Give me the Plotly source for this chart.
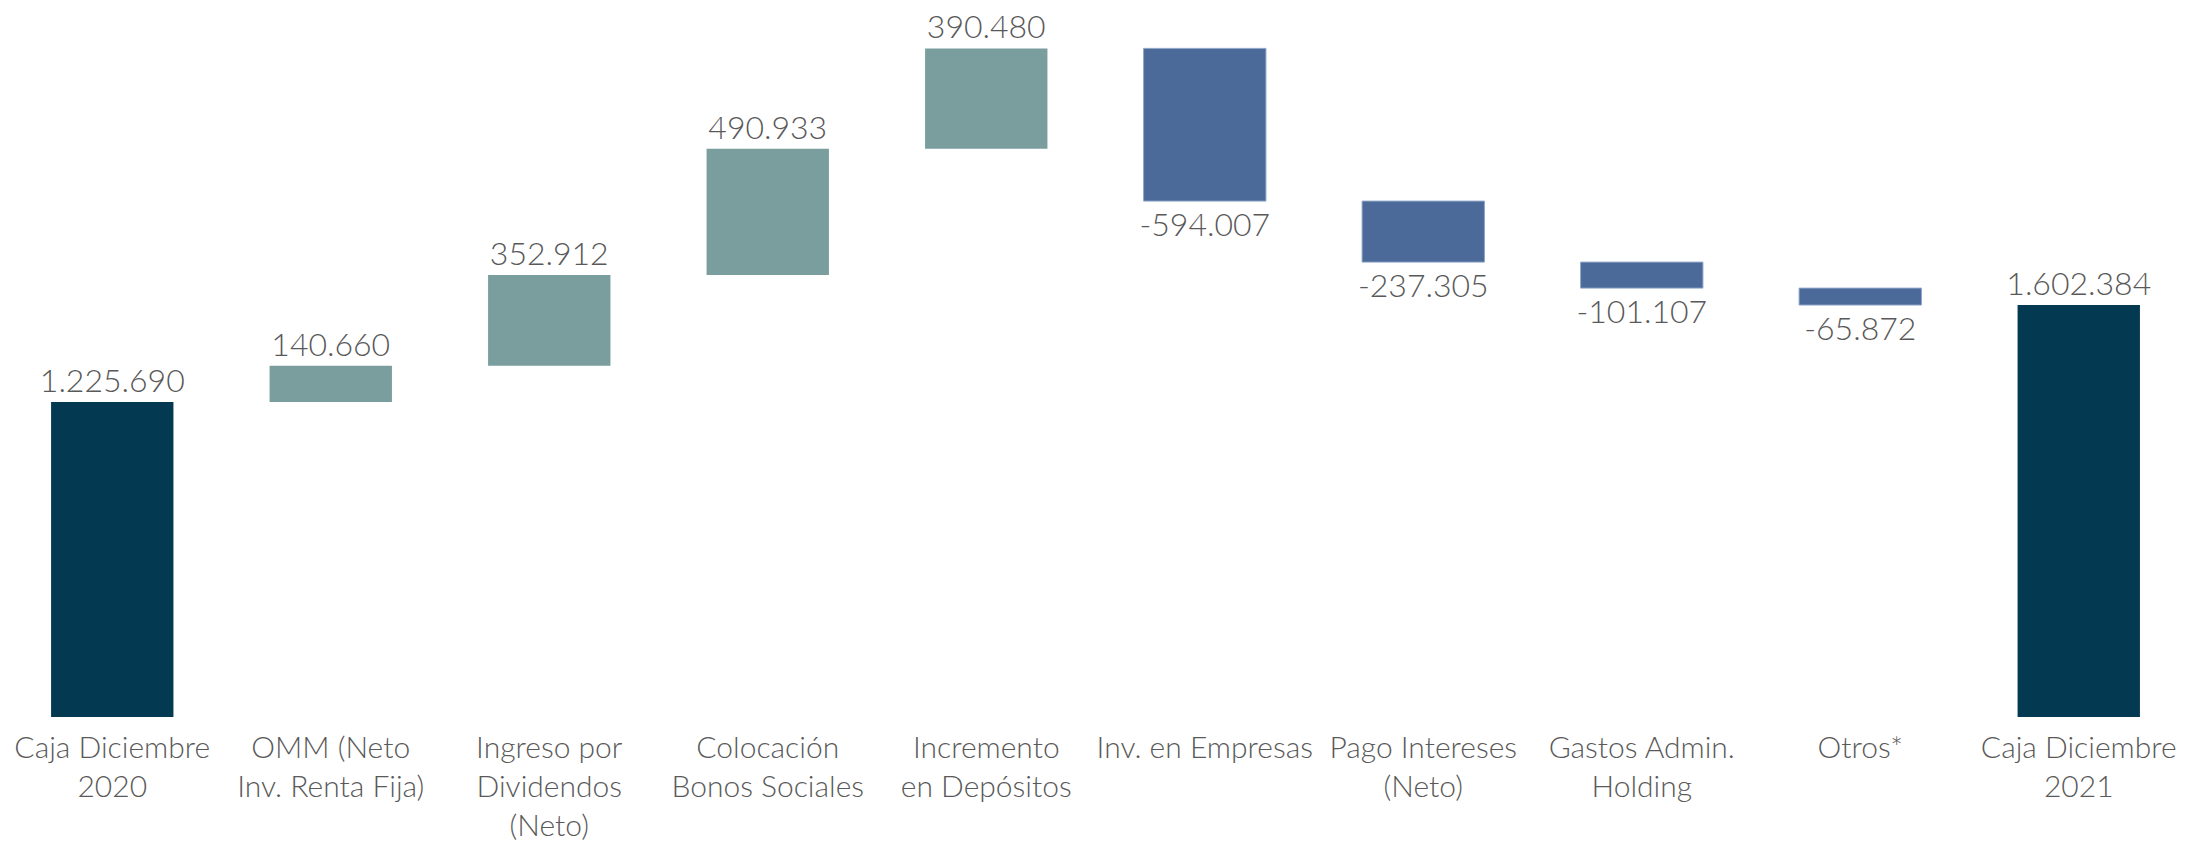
import plotly.graph_objects as go

categories = [
    "Caja Diciembre<br>2020",
    "OMM (Neto<br>Inv. Renta Fija)",
    "Ingreso por<br>Dividendos<br>(Neto)",
    "Colocación<br>Bonos Sociales",
    "Incremento<br>en Depósitos",
    "Inv. en Empresas",
    "Pago Intereses<br>(Neto)",
    "Gastos Admin.<br>Holding",
    "Otros*",
    "Caja Diciembre<br>2021",
]
values = [1225690, 140660, 352912, 490933, 390480, -594007, -237305, -101107, -65872, 1602384]
measures = ["absolute"] + ["relative"] * 8 + ["total"]

labels = [f"{v:,}".replace(",", ".") for v in values]

TEXT_GREY = "#595959"

fig = go.Figure(go.Waterfall(
    x=categories,
    y=values,
    measure=measures,
    text=labels,
    textposition="outside",
    constraintext="none",
    cliponaxis=False,
    textfont={"family": "Lato", "size": 32, "color": TEXT_GREY, "weight": 300},
    increasing={"marker": {"color": "#7A9E9E"}},
    decreasing={"marker": {"color": "#4B6A99", "line": {"color": "#8FA6C8", "width": 1}}},
    totals={"marker": {"color": "#033A52"}},
    connector={"visible": False},
    hoverinfo="skip",
))

fig.update_xaxes(
    showgrid=False, showline=False, zeroline=False, ticks="",
    tickfont={"family": "Lato", "size": 30, "color": TEXT_GREY, "weight": 300},
    ticklabelstandoff=10,
    range=[-0.468, 9.532],
)
fig.update_yaxes(visible=False, range=[0, 2750000], showgrid=False, zeroline=False)
fig.update_layout(
    width=2200, height=842,
    margin={"l": 2, "r": 13, "t": 2, "b": 133},
    waterfallgap=0.44,
    showlegend=False,
    plot_bgcolor="white", paper_bgcolor="white",
)
fig.write_html("out.html")
